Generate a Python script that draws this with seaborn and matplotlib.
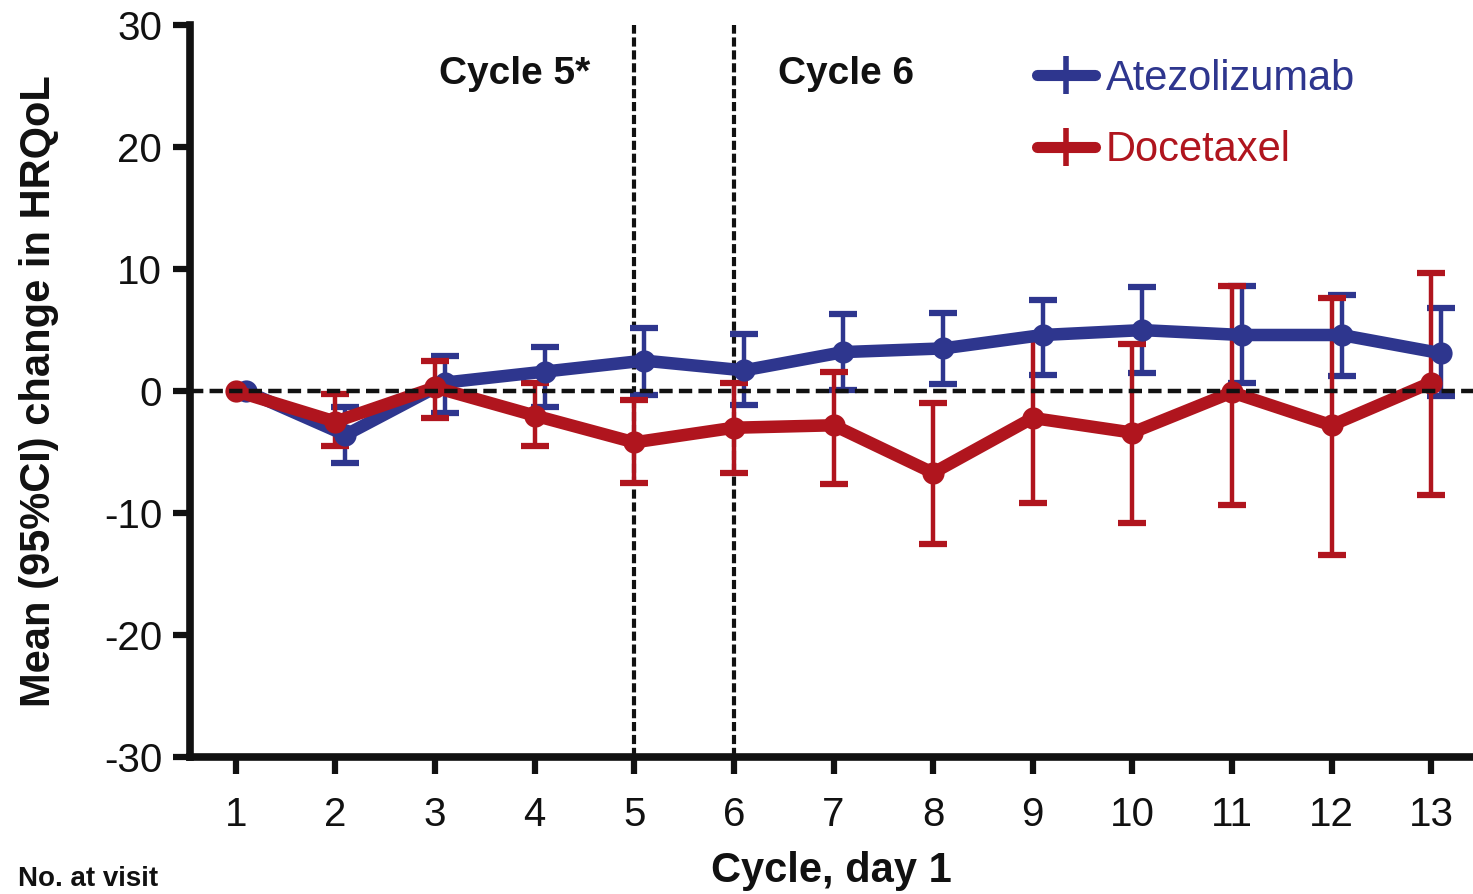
import numpy as np
import pandas as pd
import seaborn as sns
import matplotlib
matplotlib.use("Agg")
import matplotlib.pyplot as plt
from matplotlib.lines import Line2D

# data
cycles = np.arange(1, 14)

atezo_mean = [0.0, -3.6, 0.7, 1.6, 2.5, 1.7, 3.2, 3.5, 4.6, 5.0, 4.6, 4.6, 3.1]
atezo_lo = [0.0, -5.9, -1.8, -1.3, -0.3, -1.1, 0.1, 0.6, 1.3, 1.5, 0.7, 1.2, -0.4]
atezo_hi = [0.0, -1.3, 2.9, 3.6, 5.2, 4.7, 6.3, 6.4, 7.5, 8.5, 8.6, 7.9, 6.8]

doce_mean = [0.0, -2.5, 0.3, -2.0, -4.2, -3.0, -2.8, -6.7, -2.2, -3.4, -0.1, -2.8, 0.7]
doce_lo = [0.0, -4.5, -2.2, -4.5, -7.5, -6.7, -7.6, -12.5, -9.2, -10.8, -9.3, -13.4, -8.5]
doce_hi = [0.0, -0.2, 2.5, 0.7, -0.7, 0.7, 1.6, -1.0, 4.5, 3.9, 8.6, 7.6, 9.7]

blue = "#2E368E"
red = "#B0151E"

sns.set_theme(style="ticks")
plt.rcParams['font.family'] = ['Liberation Sans', 'DejaVu Sans']
plt.rcParams['axes.unicode_minus'] = False

df = pd.concat([
    pd.DataFrame({'cycle': cycles + 0.1, 'change': atezo_mean, 'arm': 'Atezolizumab'}),
    pd.DataFrame({'cycle': cycles, 'change': doce_mean, 'arm': 'Docetaxel'}),
])

fig = plt.figure(figsize=(14.73, 8.94), dpi=100)
ax = fig.add_axes([0.129, 0.153, 0.871, 0.819])

# reference lines
ax.axhline(0, color='#111111', lw=3.2, ls=(0, (3, 1.4)), zorder=5)
for xv in (5, 6):
    ax.axvline(xv, color='#111111', lw=3, ls=(0, (2.2, 0.9)), zorder=1)

# error bars
for xs, m, lo, hi, c in [(cycles + 0.1, atezo_mean, atezo_lo, atezo_hi, blue),
                         (cycles, doce_mean, doce_lo, doce_hi, red)]:
    m = np.array(m); lo = np.array(lo); hi = np.array(hi)
    ax.errorbar(xs[1:], m[1:], yerr=[m[1:] - lo[1:], hi[1:] - m[1:]], fmt='none',
                ecolor=c, elinewidth=3.2, capsize=10, capthick=4.5, zorder=3)

sns.lineplot(data=df, x='cycle', y='change', hue='arm', palette=[blue, red],
             marker='o', markersize=16, markeredgewidth=0, linewidth=9,
             ax=ax, legend=False, zorder=4)

ax.set_xlim(0.54, 13.42)
ax.set_ylim(-30, 30)
ax.set_xticks(cycles)
ax.set_yticks(np.arange(-30, 31, 10))
ax.tick_params(axis='both', labelsize=29, width=4.5, length=12, color='#111111', labelcolor='#111111')
ax.tick_params(axis='x', pad=16)
ax.tick_params(axis='y', pad=8)

for s in ('top', 'right'):
    ax.spines[s].set_visible(False)
for s in ('left', 'bottom'):
    ax.spines[s].set_linewidth(5.5)
    ax.spines[s].set_color('#111111')

ax.set_xlabel('Cycle, day 1', fontsize=30, fontweight='bold', labelpad=12, color='#111111')
ax.set_ylabel('Mean (95%CI) change in HRQoL', fontsize=30, fontweight='bold', labelpad=32, color='#111111')

ax.text(3.8, 26.0, 'Cycle 5*', fontsize=28, fontweight='bold', ha='center', va='center', color='#111111')
ax.text(7.13, 26.0, 'Cycle 6', fontsize=28, fontweight='bold', ha='center', va='center', color='#111111')

handles = [Line2D([0], [0], color=blue, lw=8, marker='|', markersize=28, markeredgewidth=4),
           Line2D([0], [0], color=red, lw=8, marker='|', markersize=28, markeredgewidth=4)]
leg = ax.legend(handles, ['Atezolizumab', 'Docetaxel'], loc='upper right',
                bbox_to_anchor=(0.937, 1.005), frameon=False, fontsize=30,
                handlelength=1.4, handletextpad=0.25, labelspacing=0.75)
for t, c in zip(leg.get_texts(), [blue, red]):
    t.set_color(c)

fig.text(0.012, 0.002, 'No. at visit', fontsize=20, fontweight='bold', color='#111111', va='bottom')

fig.savefig('out.png', dpi=100)
